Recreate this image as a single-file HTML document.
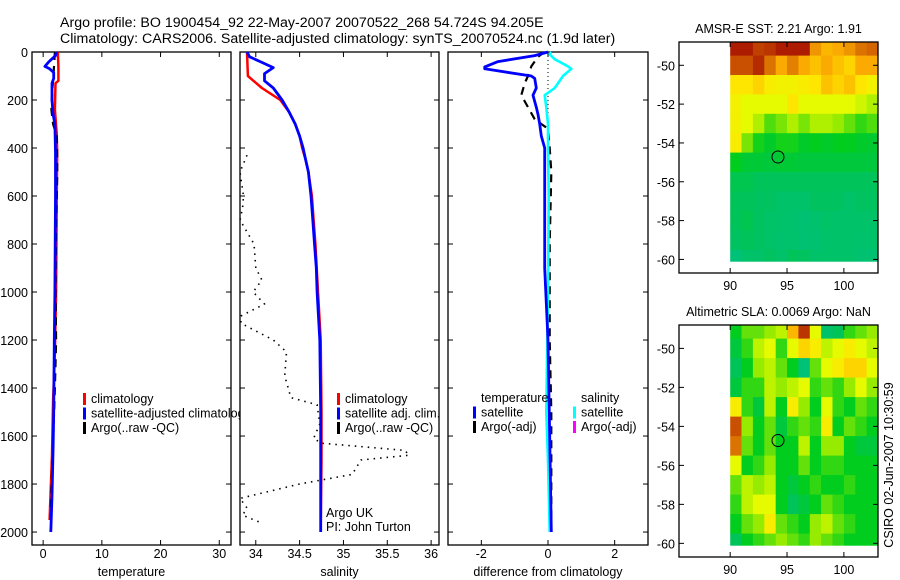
<!DOCTYPE html>
<html><head><meta charset="utf-8"><style>
body{margin:0;background:#fff}
svg{display:block;font-family:"Liberation Sans",sans-serif}
</style></head><body>
<svg id="fig" width="900" height="580" viewBox="0 0 900 580">
<text x="60" y="27" font-size="14.2">Argo profile: BO 1900454_92 22-May-2007 20070522_268 54.724S 94.205E</text>
<text x="60" y="43" font-size="14.2">Climatology: CARS2006. Satellite-adjusted climatology: synTS_20070524.nc (1.9d later)</text>
<g id="p1"></g>
<g id="p2"></g>
<g id="p3"></g>
<g id="m1"></g>
<g id="m2"></g>
<text transform="translate(893,465) rotate(-90)" text-anchor="middle" font-size="12.5">CSIRO 02-Jun-2007 10:30:59</text>
</svg>
<script>
// ---- data ----
const depthTicks=[0,200,400,600,800,1000,1200,1400,1600,1800,2000];
const tempTicks=[0,10,20,30];
const salTicks=[34,34.5,35,35.5,36];
const salTickLabels=["34","34.5","35","35.5","36"];
const diffTicks=[-2,0,2];
const tSatDepth=[0,15,40,60,70,85,110,130,200,260,300,420,600,1000,1200,1500,1650,1850,2000];
const tSatVal=[2.3,2.1,1.0,0.3,1.1,1.8,1.8,1.5,1.5,1.7,2.0,2.1,2.1,2.0,1.9,1.8,1.7,1.5,1.3];
const tClimDepth=[0,60,120,130,240,340,420,620,1000,1250,1450,1680,1880,1950];
const tClimVal=[2.5,2.6,2.6,2.1,2.0,2.3,2.4,2.3,2.2,2.0,1.7,1.5,1.2,1.1];
const tArgoDepth=[0,40,80,150,240,300,350,450,520,700,1000,1200,1400,1900,1950];
const tArgoVal=[2.0,1.9,1.8,1.6,1.4,1.7,2.3,2.4,2.4,2.2,2.1,2.2,2.0,1.3,1.3];
const sSatDepth=[0,20,40,65,90,120,150,200,250,300,350,400,450,500,600,700,800,900,1000,1200,1500,2000];
const sSatVal=[33.9,33.93,34.05,34.2,34.1,34.1,34.2,34.3,34.38,34.45,34.5,34.54,34.57,34.6,34.63,34.65,34.67,34.69,34.7,34.73,34.74,34.74];
const sClimDepth=[0,100,150,200,250,300,350,400,450,500,600,700,800,1000,1200,1500,1700,2000];
const sClimVal=[33.9,33.91,34.07,34.28,34.38,34.45,34.5,34.53,34.57,34.6,34.64,34.66,34.68,34.71,34.74,34.75,34.75,34.74];
const sArgoDepth=[430,500,600,650,700,750,800,900,950,1000,1050,1100,1130,1200,1250,1350,1400,1440,1470,1550,1610,1630,1660,1680,1700,1760,1800,1860,1900,1930,1960];
const sArgoVal=[33.9,33.82,33.86,33.85,33.82,33.9,33.98,34.0,34.07,33.97,34.1,33.83,33.83,34.2,34.35,34.33,34.37,34.4,34.7,34.73,34.66,34.75,35.7,35.75,35.2,35.1,34.5,33.82,33.9,33.85,34.05];
const dTSatDepth=[0,15,40,62,70,100,110,150,180,230,260,300,350,400,600,900,1200,1600,2000];
const dTSatVal=[0.0,-0.4,-1.5,-1.9,-1.9,-0.5,-0.4,-0.35,-0.45,-0.35,-0.3,-0.25,-0.2,-0.1,-0.1,-0.1,0.0,0.05,0.1];
const dSSatDepth=[0,10,30,60,70,100,130,150,180,230,300,400,600,1000,1500,1700,2000];
const dSSatVal=[0.1,0.05,0.2,0.6,0.7,0.45,0.3,0.2,-0.1,-0.05,0.0,0.0,0.02,0.0,-0.05,0.0,0.05];
const dTArgoDepth=[0,20,60,100,130,180,230,280,320,400,500,800,1200,1500,1650,2000];
const dTArgoVal=[-0.1,-0.3,-0.5,-0.6,-0.7,-0.8,-0.6,-0.4,0.0,0.05,0.1,0.05,0.05,0.1,0.1,0.1];
const lonTicks=[90,95,100];
const latTicks=[-50,-52,-54,-56,-58,-60];
const gridLats=[-49,-50,-51,-52,-53,-54,-55,-56,-57,-58,-59,-60];
const gridLons=[90,91,92,93,94,95,96,97,98,99,100,101,102];
const sstGrid=[
[.95,.95,.88,.9,.95,.95,.95,.75,.7,.72,.75,.8,.82],
[.85,.85,.92,.8,.72,.78,.72,.68,.72,.68,.65,.72,.72],
[.62,.62,.65,.6,.58,.58,.6,.62,.68,.65,.68,.62,.58],
[.58,.55,.55,.55,.55,.62,.55,.55,.55,.55,.55,.52,.48],
[.58,.55,.48,.38,.42,.48,.42,.48,.48,.45,.4,.35,.38],
[.6,.42,.32,.28,.32,.32,.28,.3,.28,.3,.3,.28,.27],
[.3,.26,.26,.25,.26,.26,.25,.25,.25,.25,.25,.25,.25],
[.22,.22,.2,.2,.2,.2,.2,.2,.2,.2,.2,.2,.2],
[.2,.2,.18,.18,.15,.15,.15,.18,.18,.18,.15,.18,.18],
[.2,.22,.18,.16,.15,.14,.12,.14,.16,.15,.15,.15,.16],
[.18,.2,.18,.16,.14,.14,.12,.13,.15,.15,.15,.14,.15],
[.1,.15,.15,.18,.15,.2,.18,.15,.15,.15,.15,.13,.12]];
const slaGrid=[
[.3,.4,.4,.45,.5,.7,.9,.55,.15,.2,.35,.4,.45],
[.25,.35,.5,.55,.35,.55,.65,.6,.5,.55,.6,.55,.5],
[.2,.3,.45,.5,.4,.3,.1,.4,.55,.6,.65,.65,.55],
[.25,.35,.35,.5,.45,.5,.55,.35,.4,.35,.45,.55,.45],
[.6,.35,.25,.5,.3,.6,.45,.3,.55,.35,.3,.4,.35],
[.85,.45,.3,.4,.25,.35,.4,.35,.6,.3,.4,.35,.3],
[.8,.4,.3,.4,.3,.3,.5,.3,.45,.45,.3,.25,.25],
[.55,.3,.35,.45,.3,.3,.4,.3,.35,.35,.3,.3,.3],
[.4,.5,.45,.5,.3,.25,.3,.35,.3,.3,.35,.3,.3],
[.35,.5,.55,.55,.3,.2,.25,.3,.4,.35,.3,.3,.3],
[.3,.4,.45,.6,.4,.35,.3,.45,.5,.4,.35,.3,.3],
[.2,.3,.35,.4,.45,.4,.35,.45,.4,.35,.3,.3,.3]];
const floatLon=94.205, floatLat=-54.724;

const NS="http://www.w3.org/2000/svg";
function el(tag,attrs,parent){const e=document.createElementNS(NS,tag);for(const k in attrs)e.setAttribute(k,attrs[k]);parent.appendChild(e);return e;}
function txt(parent,x,y,s,anchor,size){const t=el('text',{x:x,y:y,'font-size':size||12.5,'text-anchor':anchor||'start'},parent);t.textContent=s;return t;}

const TOP=52,BOT=545,D0=0,D1=2054;
function yD(d){return TOP+(d-D0)/(D1-D0)*(BOT-TOP);}
function makeX(x0,x1,v0,v1){return v=>x0+(v-v0)/(v1-v0)*(x1-x0);}

function panel(g,x0,x1,xs,xt,xl,label,depthLabels){
  el('rect',{x:x0,y:TOP,width:x1-x0,height:BOT-TOP,fill:'#fff',stroke:'#000','stroke-width':1.3},g);
  depthTicks.forEach(d=>{const y=yD(d);
    el('line',{x1:x0,y1:y,x2:x0+5,y2:y,stroke:'#000'},g);
    el('line',{x1:x1,y1:y,x2:x1-5,y2:y,stroke:'#000'},g);
    if(depthLabels){const t=txt(g,x0-4,y+5,String(d),'end',12.5);
      
      }
  });
  xt.forEach((v,i)=>{const x=xs(v);
    el('line',{x1:x,y1:BOT,x2:x,y2:BOT-5,stroke:'#000'},g);
    el('line',{x1:x,y1:TOP,x2:x,y2:TOP+5,stroke:'#000'},g);
    const t=txt(g,x,558,xl[i],'middle',12.5);
    
    
  });
  const t=txt(g,(x0+x1)/2,576,label,'middle',12.5);
  
  
}
function line(g,xs,depths,vals,color,w,dash,name){
  const pts=depths.map((d,i)=>xs(vals[i]).toFixed(1)+','+yD(d).toFixed(1)).join(' ');
  const p=el('polyline',{points:pts,fill:'none',stroke:color,'stroke-width':w,'stroke-linejoin':'round'},g);
  if(dash)p.setAttribute('stroke-dasharray',dash);
  
  
}
function legend(g,x,y,items){
  items.forEach((it,i)=>{const yy=y+i*14.5;
    if(it[0])el('rect',{x:x,y:yy-10,width:3,height:12,fill:it[0]},g);
    const t=txt(g,x+8,yy,it[1],'start',12.5);
    
    
  });
}

// Panel 1
const g1=document.getElementById('p1');
const x1=makeX(32,231,-1.9,32);
panel(g1,32,231,x1,tempTicks,tempTicks.map(String),'temperature',true);
line(g1,x1,tClimDepth,tClimVal,'#f00',2.5,null,'temp-climatology-line');
line(g1,x1,tArgoDepth,tArgoVal,'#000',2.2,'8,6','temp-argo-line');
line(g1,x1,tSatDepth,tSatVal,'#00f',2.8,null,'temp-satellite-line');
legend(g1,83,403,[['#f00','climatology'],['#00f','satellite-adjusted climatology'],['#000','Argo(..raw -QC)']]);

// Panel 2
const g2=document.getElementById('p2');
const x2=makeX(240,439,33.82,36.09);
panel(g2,240,439,x2,salTicks,salTickLabels,'salinity',false);
line(g2,x2,sArgoDepth,sArgoVal,'#000',1.6,'1.5,5','sal-argo-line');
line(g2,x2,sClimDepth,sClimVal,'#f00',2.5,null,'sal-climatology-line');
line(g2,x2,sSatDepth,sSatVal,'#00f',2.8,null,'sal-satellite-line');
legend(g2,337,403,[['#f00','climatology'],['#00f','satellite adj. clim.'],['#000','Argo(..raw -QC)']]);
txt(g2,326,517,'Argo UK','start',12.5);
txt(g2,326,531,'PI: John Turton','start',12.5);

// Panel 3
const g3=document.getElementById('p3');
const x3=makeX(448,648,-3.0,3.0);
panel(g3,448,648,x3,diffTicks,diffTicks.map(String),'difference from climatology',false);
el('line',{x1:x3(0),y1:TOP,x2:x3(0),y2:yD(1000),stroke:'#000','stroke-dasharray':'1,3'},g3);
line(g3,x3,dTArgoDepth,dTArgoVal,'#000',2.2,'8,6','diff-temp-argo-line');
line(g3,x3,dSSatDepth,dSSatVal,'#0ff',2.6,null,'diff-sal-satellite-line');
line(g3,x3,dTSatDepth,dTSatVal,'#00f',2.8,null,'diff-temp-satellite-line');
legend(g3,473,402,[[null,'temperature'],['#00f','satellite'],['#000','Argo(-adj)']]);
legend(g3,573,402,[[null,'salinity'],['#0ff','satellite'],['#f0f','Argo(-adj)']]);

// Maps
const stops=[[0,[0,190,150]],[0.2,[0,195,90]],[0.3,[0,205,30]],[0.45,[150,235,0]],[0.55,[230,250,0]],[0.62,[255,230,0]],[0.72,[250,170,0]],[0.85,[200,80,0]],[1,[160,0,0]]];
function cmap(v){for(let i=1;i<stops.length;i++){if(v<=stops[i][0]){const a=stops[i-1],b=stops[i],f=(v-a[0])/(b[0]-a[0]);
  return 'rgb('+a[1].map((c,k)=>Math.round(c+f*(b[1][k]-c))).join(',')+')';}}return 'rgb(160,0,0)';}
function map(id,top,bot,title,grid){
  const g=document.getElementById(id);
  const L=679,R=878,lon0=85.5,lon1=103,lat0=-48.8,lat1=-60.7;
  const xm=v=>L+(v-lon0)/(lon1-lon0)*(R-L);
  const ym=v=>top+(v-lat0)/(lat1-lat0)*(bot-top);
  grid.forEach((row,r)=>row.forEach((v,c)=>{
    const la=gridLats[r],lo=gridLons[c];
    const ya=ym(Math.min(la+0.5,lat0)),yb=ym(Math.max(la-0.5,-60.1));
    const rc=el('rect',{x:xm(lo).toFixed(1),y:ya.toFixed(1),width:(xm(lo+1)-xm(lo)+0.4).toFixed(1),height:(yb-ya+0.4).toFixed(1),fill:cmap(v)},g);
    
    
  }));
  el('rect',{x:L,y:top,width:R-L,height:bot-top,fill:'none',stroke:'#000','stroke-width':1.3},g);
  lonTicks.forEach(v=>{const x=xm(v);
    el('line',{x1:x,y1:top,x2:x,y2:top+5,stroke:'#000'},g);
    el('line',{x1:x,y1:bot,x2:x,y2:bot-5,stroke:'#000'},g);
    const t=txt(g,x,bot+17,String(v),'middle',12.5);
    
    });
  latTicks.forEach(v=>{const y=ym(v);
    el('line',{x1:L,y1:y,x2:L+5,y2:y,stroke:'#000'},g);
    el('line',{x1:R,y1:y,x2:R-5,y2:y,stroke:'#000'},g);
    const t=txt(g,L-4,y+5,String(v),'end',12.5);
    
    });
  const c=el('circle',{cx:xm(floatLon),cy:ym(floatLat),r:6,fill:'none',stroke:'#000','stroke-width':1},g);
  
  
  const t=txt(g,(L+R)/2,top-9,title,'middle',12.5);
  
  
}
map('m1',42,273,'AMSR-E SST: 2.21 Argo: 1.91',sstGrid);
map('m2',325,557,'Altimetric SLA: 0.0069 Argo: NaN',slaGrid);
</script>
</body></html>
